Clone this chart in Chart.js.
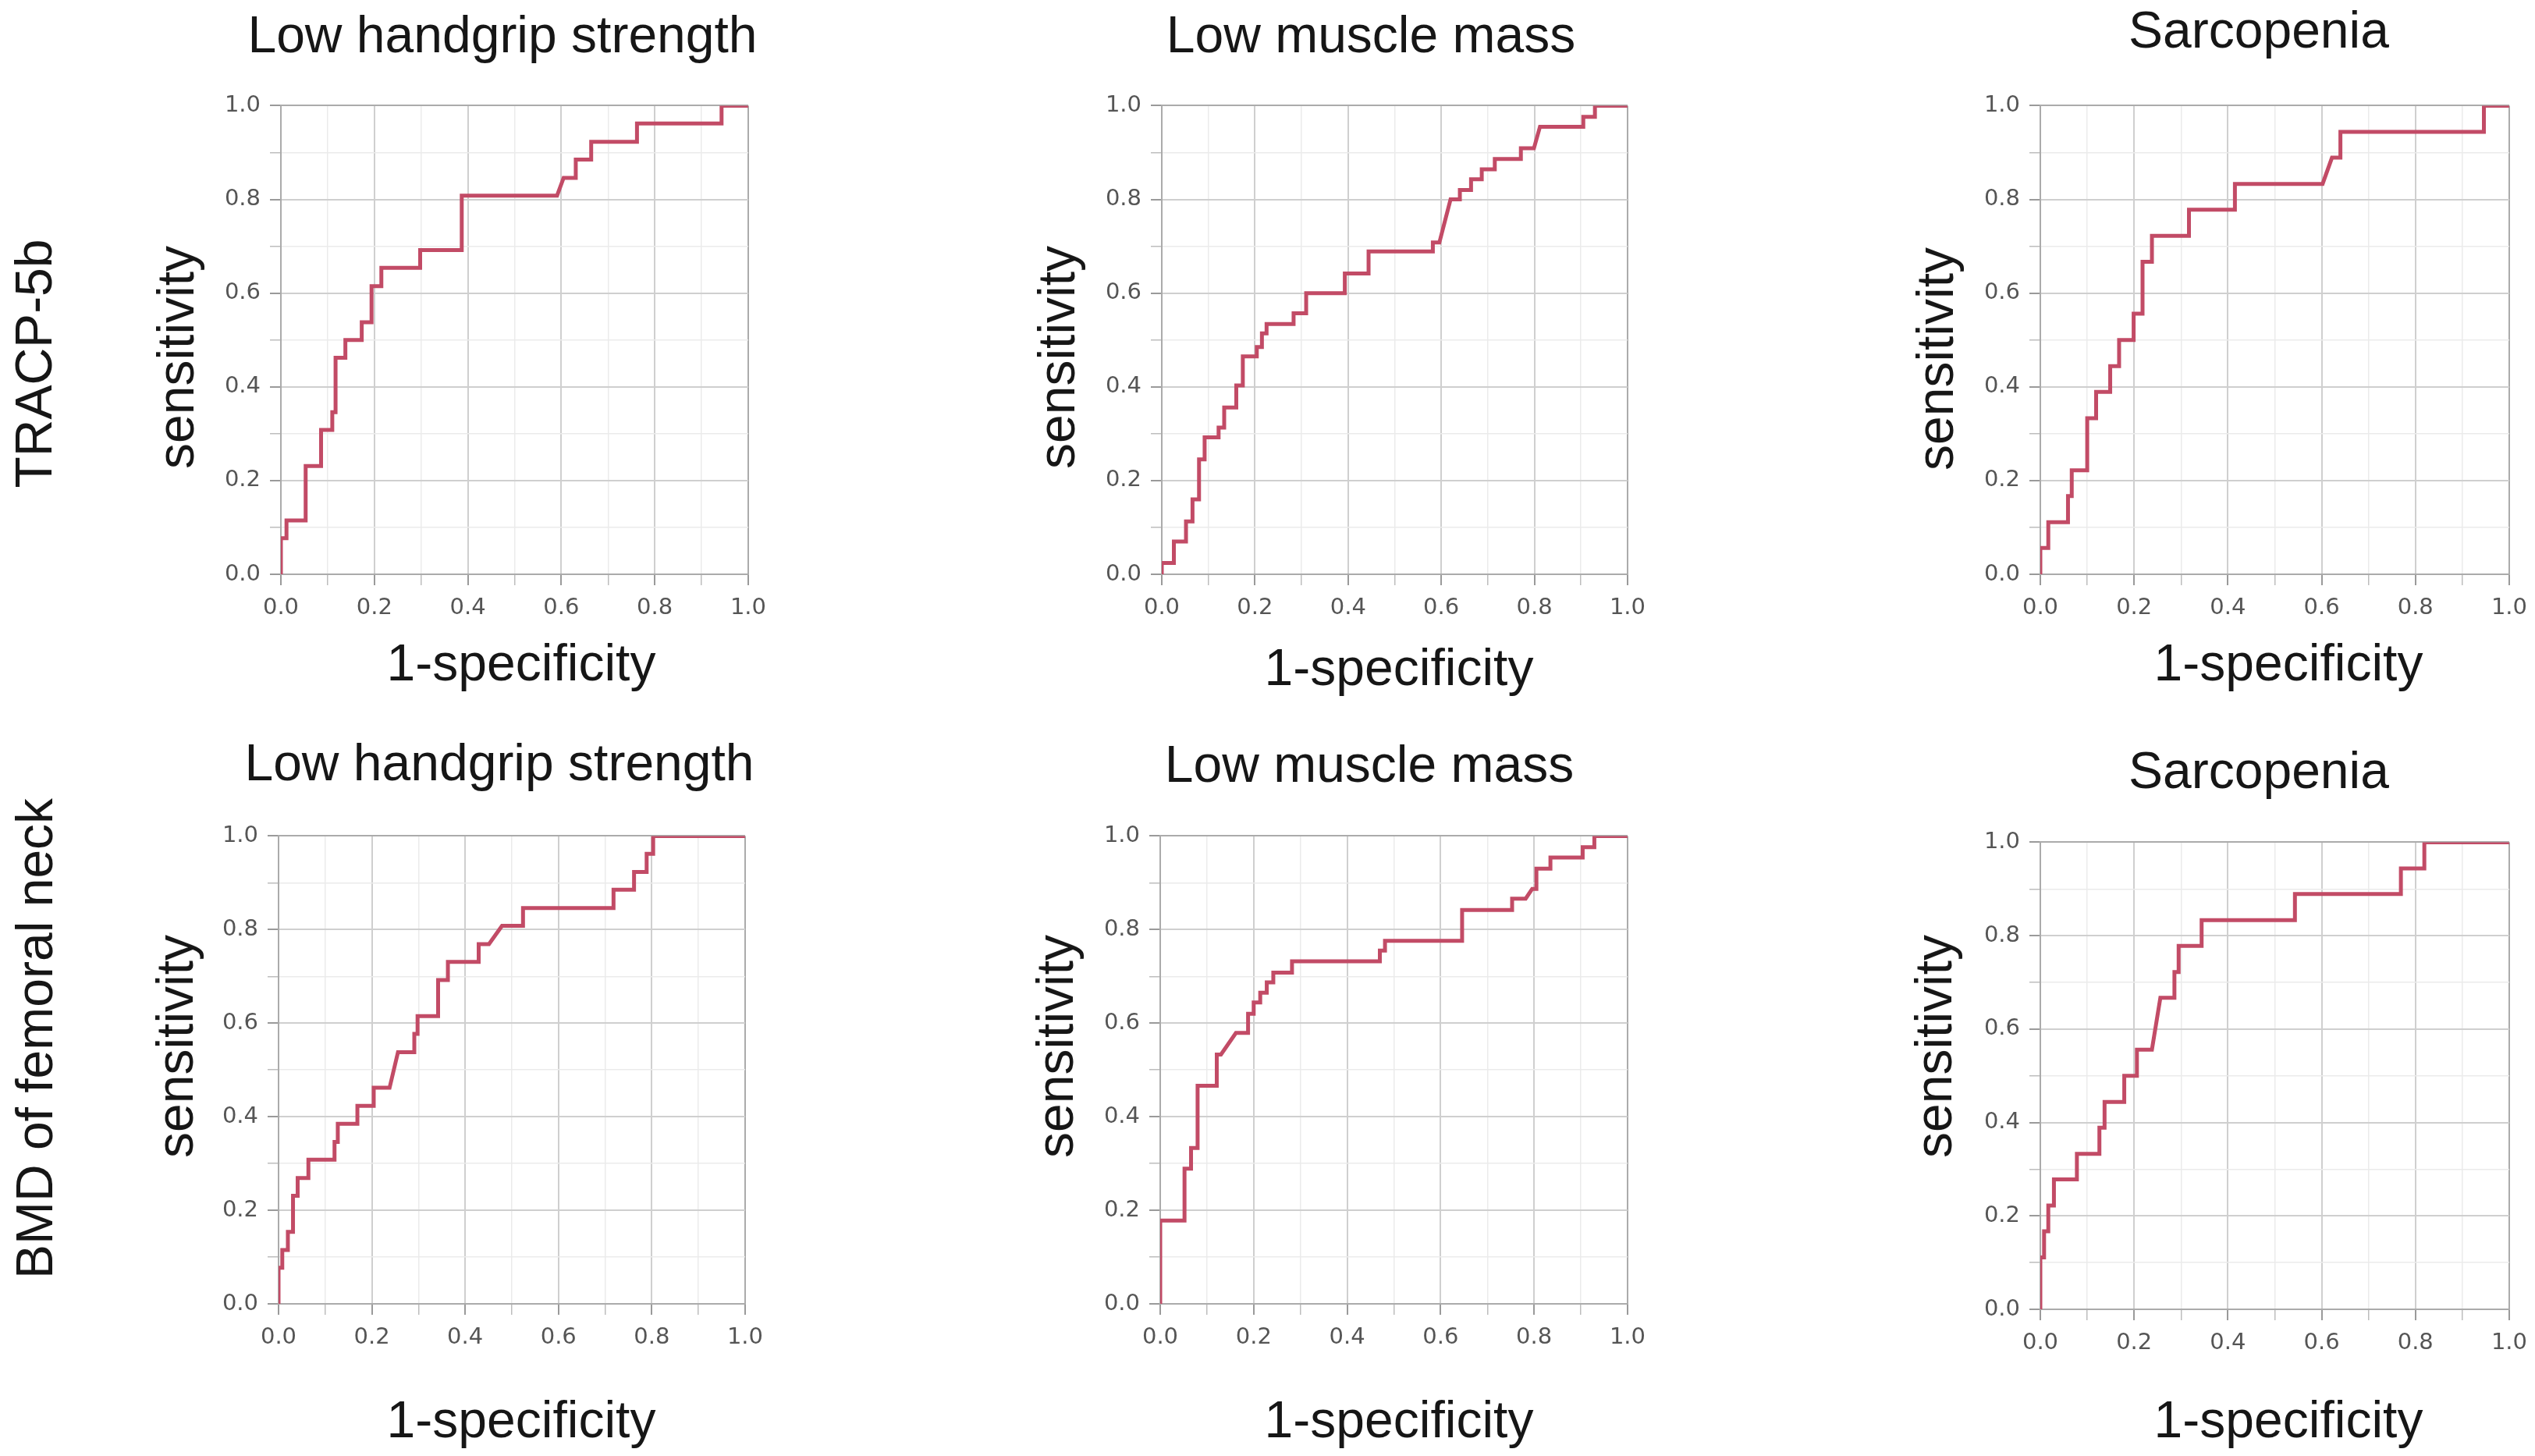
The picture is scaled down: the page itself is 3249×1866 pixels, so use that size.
<!DOCTYPE html>
<html>
<head>
<meta charset="utf-8">
<script src="https://cdn.jsdelivr.net/npm/chart.js@4.4.1/dist/chart.umd.min.js"></script>
<style>
  body { margin: 0; background: #fff; }
  #fig { position: relative; width: 3249px; height: 1866px; overflow: hidden;
         font-family: "Liberation Sans", Arial, sans-serif; color: #161616; }
  .lbl { position: absolute; font-size: 66px; line-height: 66px; white-space: nowrap; }
  canvas { position: absolute; }
</style>
</head>
<body>
<div id="fig"></div>
<script>
// ROC curves: vertices of each curve (1-specificity, sensitivity)
const tracpGripX = [0, 0, 0.012, 0.012, 0.053, 0.053, 0.086, 0.086, 0.110, 0.110, 0.117, 0.117, 0.138, 0.138, 0.173, 0.173, 0.194, 0.194, 0.215, 0.215, 0.298, 0.298, 0.387, 0.387, 0.591, 0.605, 0.631, 0.631, 0.664, 0.664, 0.762, 0.762, 0.943, 0.943, 1];
const tracpGripY = [0, 0.077, 0.077, 0.115, 0.115, 0.231, 0.231, 0.308, 0.308, 0.346, 0.346, 0.462, 0.462, 0.500, 0.500, 0.538, 0.538, 0.615, 0.615, 0.654, 0.654, 0.692, 0.692, 0.808, 0.808, 0.846, 0.846, 0.885, 0.885, 0.923, 0.923, 0.962, 0.962, 1, 1];

const tracpMuscleX = [0, 0, 0.026, 0.026, 0.052, 0.052, 0.066, 0.066, 0.080, 0.080, 0.092, 0.092, 0.122, 0.122, 0.134, 0.134, 0.160, 0.160, 0.174, 0.174, 0.204, 0.204, 0.215, 0.215, 0.225, 0.225, 0.283, 0.283, 0.310, 0.310, 0.393, 0.393, 0.444, 0.444, 0.582, 0.582, 0.596, 0.620, 0.640, 0.640, 0.664, 0.664, 0.687, 0.687, 0.715, 0.715, 0.771, 0.771, 0.799, 0.812, 0.905, 0.905, 0.930, 0.930, 1];
const tracpMuscleY = [0, 0.024, 0.024, 0.070, 0.070, 0.113, 0.113, 0.160, 0.160, 0.245, 0.245, 0.292, 0.292, 0.313, 0.313, 0.356, 0.356, 0.403, 0.403, 0.465, 0.465, 0.485, 0.485, 0.514, 0.514, 0.534, 0.534, 0.557, 0.557, 0.600, 0.600, 0.642, 0.642, 0.689, 0.689, 0.708, 0.708, 0.800, 0.800, 0.820, 0.820, 0.843, 0.843, 0.864, 0.864, 0.886, 0.886, 0.909, 0.909, 0.955, 0.955, 0.976, 0.976, 1, 1];

const tracpSarcX = [0, 0, 0.017, 0.017, 0.059, 0.059, 0.067, 0.067, 0.100, 0.100, 0.119, 0.119, 0.149, 0.149, 0.168, 0.168, 0.199, 0.199, 0.218, 0.218, 0.238, 0.238, 0.317, 0.317, 0.415, 0.415, 0.602, 0.622, 0.640, 0.640, 0.946, 0.946, 1];
const tracpSarcY = [0, 0.056, 0.056, 0.111, 0.111, 0.167, 0.167, 0.222, 0.222, 0.333, 0.333, 0.389, 0.389, 0.444, 0.444, 0.500, 0.500, 0.556, 0.556, 0.667, 0.667, 0.722, 0.722, 0.778, 0.778, 0.833, 0.833, 0.889, 0.889, 0.944, 0.944, 1, 1];

const bmdGripX = [0, 0, 0.008, 0.008, 0.020, 0.020, 0.031, 0.031, 0.041, 0.041, 0.064, 0.064, 0.120, 0.120, 0.127, 0.127, 0.169, 0.169, 0.204, 0.204, 0.238, 0.256, 0.291, 0.291, 0.298, 0.298, 0.342, 0.342, 0.363, 0.363, 0.429, 0.429, 0.451, 0.479, 0.524, 0.524, 0.718, 0.718, 0.762, 0.762, 0.789, 0.789, 0.803, 0.803, 1];
const bmdGripY = [0, 0.077, 0.077, 0.115, 0.115, 0.154, 0.154, 0.231, 0.231, 0.269, 0.269, 0.308, 0.308, 0.346, 0.346, 0.385, 0.385, 0.423, 0.423, 0.462, 0.462, 0.538, 0.538, 0.577, 0.577, 0.615, 0.615, 0.692, 0.692, 0.731, 0.731, 0.769, 0.769, 0.808, 0.808, 0.846, 0.846, 0.885, 0.885, 0.923, 0.923, 0.962, 0.962, 1, 1];

const bmdMuscleX = [0, 0, 0.052, 0.052, 0.066, 0.066, 0.080, 0.080, 0.121, 0.121, 0.130, 0.162, 0.188, 0.188, 0.200, 0.200, 0.214, 0.214, 0.228, 0.228, 0.242, 0.242, 0.282, 0.282, 0.470, 0.470, 0.481, 0.481, 0.646, 0.646, 0.753, 0.753, 0.782, 0.796, 0.805, 0.805, 0.835, 0.835, 0.904, 0.904, 0.929, 0.929, 1];
const bmdMuscleY = [0, 0.178, 0.178, 0.289, 0.289, 0.333, 0.333, 0.466, 0.466, 0.533, 0.533, 0.579, 0.579, 0.620, 0.620, 0.644, 0.644, 0.665, 0.665, 0.687, 0.687, 0.708, 0.708, 0.732, 0.732, 0.755, 0.755, 0.776, 0.776, 0.842, 0.842, 0.866, 0.866, 0.887, 0.887, 0.930, 0.930, 0.954, 0.954, 0.976, 0.976, 1, 1];

const bmdSarcX = [0, 0, 0.008, 0.008, 0.017, 0.017, 0.029, 0.029, 0.078, 0.078, 0.126, 0.126, 0.137, 0.137, 0.179, 0.179, 0.206, 0.206, 0.238, 0.256, 0.286, 0.286, 0.295, 0.295, 0.344, 0.344, 0.543, 0.543, 0.769, 0.769, 0.819, 0.819, 1];
const bmdSarcY = [0, 0.111, 0.111, 0.167, 0.167, 0.222, 0.222, 0.278, 0.278, 0.333, 0.333, 0.389, 0.389, 0.444, 0.444, 0.500, 0.500, 0.556, 0.556, 0.667, 0.667, 0.722, 0.722, 0.778, 0.778, 0.833, 0.833, 0.889, 0.889, 0.944, 0.944, 1, 1];

const panelTitles = ['Low handgrip strength', 'Low muscle mass', 'Sarcopenia'];
const rowLabels = ['TRACP-5b', 'BMD of femoral neck'];
const xTitle = '1-specificity';
const yTitle = 'sensitivity';

const curves = [
  [tracpGripX, tracpGripY], [tracpMuscleX, tracpMuscleY], [tracpSarcX, tracpSarcY],
  [bmdGripX, bmdGripY], [bmdMuscleX, bmdMuscleY], [bmdSarcX, bmdSarcY]
];

// plot boxes (left, top, right, bottom) in page pixels
const boxes = [
  [360, 130, 964, 736], [1489, 130, 2091, 736], [2615, 130, 3221, 736],
  [357, 1066, 960, 1671], [1487, 1066, 2091, 1671], [2615, 1074, 3221, 1678]
];
const titlePos = [[644, 67], [1757, 67], [2895, 61], [640, 1000], [1755, 1002], [2895, 1010]];
const xTitlePos = [[668, 872], [1793, 878], [2933, 872], [668, 1842], [1793, 1842], [2933, 1842]];
const yTitlePos = [[225, 458], [1354, 458], [2480, 460], [224, 1341], [1352, 1341], [2478, 1341]];
const rowLabelPos = [[43, 466], [44, 1331]];

const fig = document.getElementById('fig');
const BASE = 56; // baseline offset inside a 66px line box

function addText(txt, x, baseline) {
  const d = document.createElement('div');
  d.className = 'lbl';
  d.textContent = txt;
  d.style.left = x + 'px';
  d.style.top = (baseline - BASE) + 'px';
  d.style.transform = 'translateX(-50%)';
  fig.appendChild(d);
}
function addVText(txt, cx, cy) {
  const d = document.createElement('div');
  d.className = 'lbl';
  d.textContent = txt;
  d.style.left = cx + 'px';
  d.style.top = cy + 'px';
  d.style.transform = 'translate(-50%,-50%) rotate(-90deg)';
  fig.appendChild(d);
}

const tenth = v => Math.round(v * 10);
const gridColor = c => {
  const t = tenth(c.tick.value);
  if (t === 0 || t === 10) return '#ababab';
  return t % 2 === 0 ? '#cfcfcf' : '#ebebeb';
};
const gridWidth = c => (tenth(c.tick.value) % 2 === 0 ? 2 : 1.5);
const tickColor = c => (tenth(c.tick.value) % 2 === 0 ? '#9a9a9a' : '#bdbdbd');
const tickLabel = v => (tenth(v) % 2 === 0 ? (tenth(v) / 10).toFixed(1) : '');

function axis(fit) {
  return {
    type: 'linear', min: 0, max: 1,
    grid: { color: gridColor, lineWidth: gridWidth, tickColor: tickColor, tickLength: 14 },
    border: { color: '#ababab', width: 2 },
    ticks: {
      stepSize: 0.1, autoSkip: false, maxRotation: 0, padding: 12,
      color: '#555', font: { family: 'DejaVu Sans', size: 29 },
      callback: tickLabel
    },
    afterFit: fit
  };
}

const padL = 110, padT = 24, padR = 30, padB = 70;

curves.forEach((c, i) => {
  const [L, T, R, B] = boxes[i];
  const cv = document.createElement('canvas');
  const w = (R - L) + padL + padR, h = (B - T) + padT + padB;
  cv.width = w; cv.height = h;
  cv.style.width = w + 'px'; cv.style.height = h + 'px';
  cv.style.left = (L - padL) + 'px';
  cv.style.top = (T - padT) + 'px';
  fig.appendChild(cv);

  new Chart(cv, {
    type: 'scatter',
    data: {
      datasets: [{
        data: c[0].map((x, k) => ({ x: x, y: c[1][k] })),
        showLine: true,
        borderColor: '#c24b66',
        borderWidth: 5,
        pointRadius: 0,
        tension: 0
      }]
    },
    options: {
      responsive: false,
      devicePixelRatio: 1,
      animation: false,
      layout: { padding: { top: padT, right: padR, left: 0, bottom: 0 } },
      plugins: { legend: { display: false }, tooltip: { enabled: false } },
      scales: {
        x: axis(s => { s.height = padB; }),
        y: axis(s => { s.width = padL; })
      }
    }
  });

  const col = i % 3;
  addText(panelTitles[col], titlePos[i][0], titlePos[i][1]);
  addText(xTitle, xTitlePos[i][0], xTitlePos[i][1]);
  addVText(yTitle, yTitlePos[i][0], yTitlePos[i][1]);
});

rowLabels.forEach((t, r) => addVText(t, rowLabelPos[r][0], rowLabelPos[r][1]));
</script>
</body>
</html>
